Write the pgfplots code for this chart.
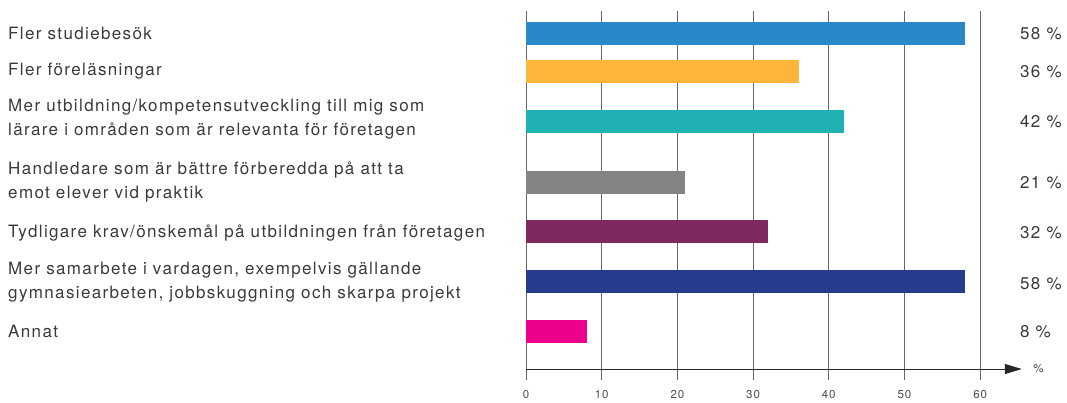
\documentclass[border=0pt]{standalone}
\usepackage{fontspec}
\setmainfont{TeX Gyre Heros}[LetterSpace=8]
\usepackage{pgfplots}
\pgfplotsset{compat=1.18}
\usetikzlibrary{arrows.meta}
\definecolor{c1}{HTML}{2989C8}
\definecolor{c2}{HTML}{FDB53A}
\definecolor{c3}{HTML}{20B2B2}
\definecolor{c4}{HTML}{838383}
\definecolor{c5}{HTML}{7F2A5E}
\definecolor{c6}{HTML}{253D8C}
\definecolor{c7}{HTML}{EC008C}
\definecolor{txt}{HTML}{3A3A3A}
\tikzset{lbl/.style={anchor=west, inner sep=0pt, align=left, font=\fontsize{17}{24}\selectfont, text=txt},
  val/.style={anchor=west, inner sep=0pt, font=\fontsize{17}{24}\selectfont, text=txt}}
\begin{document}
\begin{tikzpicture}[x=1pt,y=1pt]
\path[use as bounding box] (0,0) rectangle (1067,-403);
\begin{axis}[at={(526pt,-11pt)}, anchor=north west, scale only axis,
  width=495.8pt, height=369pt, xmin=0, xmax=65.5, ymin=11, ymax=380, y dir=reverse,
  clip=false, axis line style={draw=none}, xtick={0,10,...,60}, ytick=\empty,
  major tick length=0pt, xmajorgrids, grid style={black!60, line width=1pt},
  xticklabel style={font=\fontsize{11.5}{13}\selectfont, text=black!70, yshift=-7pt},
  /pgf/number format/assume math mode=true,
  xbar, bar width=22.7, bar shift=0pt]
\addplot[fill=c1, draw=none] coordinates {(58,33.4)};
\addplot[fill=c2, draw=none] coordinates {(36,71.4)};
\addplot[fill=c3, draw=none] coordinates {(42,121.5)};
\addplot[fill=c4, draw=none] coordinates {(21,182.5)};
\addplot[fill=c5, draw=none] coordinates {(32,231.5)};
\addplot[fill=c6, draw=none] coordinates {(58,281.5)};
\addplot[fill=c7, draw=none] coordinates {(8,331.5)};
\draw[black!85, line width=1pt, -{Triangle[length=17pt,width=10pt]}] (axis cs:0,369) -- (axis cs:65.5,369);
\node[anchor=west, inner sep=0pt, font=\fontsize{11.5}{13}\selectfont, text=black!70] at (axis cs:67.0,369) {\%};
\node[lbl] at (axis cs:-68.43,33.4) {Fler studiebesök};
\node[lbl] at (axis cs:-68.43,71.4) {Fler föreläsningar};
\node[lbl] at (axis cs:-68.43,119) {Mer utbildning/kompetensutveckling till mig som\\lärare i områden som är relevanta för företagen};
\node[lbl] at (axis cs:-68.43,181.5) {Handledare som är bättre förberedda på att ta\\emot elever vid praktik};
\node[lbl] at (axis cs:-68.43,233) {Tydligare krav/önskemål på utbildningen från företagen};
\node[lbl] at (axis cs:-68.43,282) {Mer samarbete i vardagen, exempelvis gällande\\gymnasiearbeten, jobbskuggning och skarpa projekt};
\node[lbl] at (axis cs:-68.43,331.5) {Annat};
\node[val] at (axis cs:65.26,33.4) {58 \%};
\node[val] at (axis cs:65.26,71.4) {36 \%};
\node[val] at (axis cs:65.26,121.5) {42 \%};
\node[val] at (axis cs:65.26,182.5) {21 \%};
\node[val] at (axis cs:65.26,233) {32 \%};
\node[val] at (axis cs:65.26,284) {58 \%};
\node[val] at (axis cs:65.26,331.5) {8 \%};
\end{axis}
\end{tikzpicture}
\end{document}
